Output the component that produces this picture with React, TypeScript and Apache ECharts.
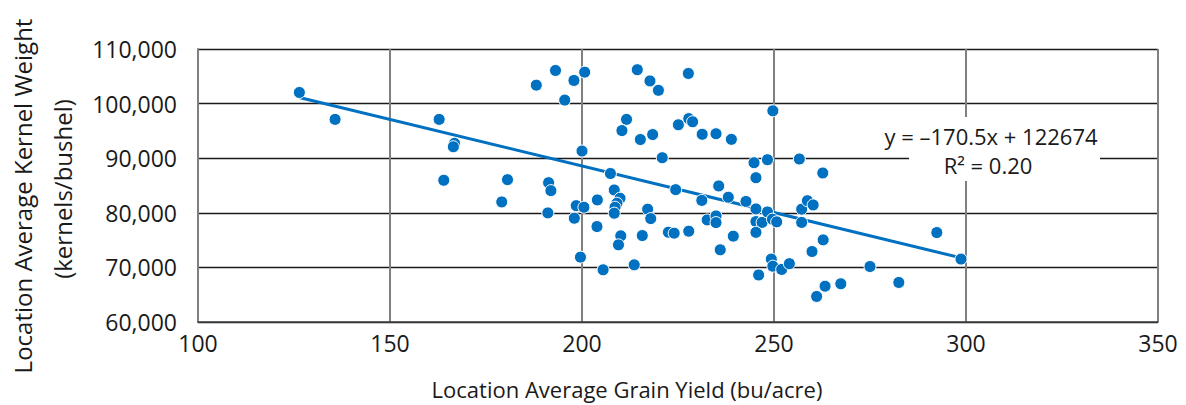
import React, { useEffect, useRef } from "react";
import * as echarts from "echarts";

const grainYield: number[] = [
  126.4, 135.7, 162.8, 166.8, 166.5, 164.0, 180.6, 191.3, 191.9, 179.1,
  191.1, 188.1, 193.1, 197.9, 200.7, 195.5, 200.0, 198.5, 200.5, 198.0,
  199.6, 204.0, 203.9, 208.4, 209.9, 209.1, 208.6, 208.4, 210.1, 209.5,
  205.5, 213.6, 215.7, 217.1, 217.9, 222.5, 224.0, 224.4, 227.8, 231.2,
  232.6, 214.4, 217.7, 219.9, 227.7, 211.6, 210.4, 215.2, 218.4, 225.1,
  227.8, 228.8, 231.3, 234.9, 238.9, 220.9, 207.4, 249.7, 244.8, 248.3,
  256.6, 245.3, 262.7, 235.6, 234.9, 234.9, 236.0, 238.1, 239.4, 242.7,
  245.3, 245.3, 246.9, 245.3, 248.3, 249.6, 250.7, 249.3, 249.7, 252.0,
  254.0, 246.0, 257.2, 258.7, 260.2, 257.2, 262.8, 259.9, 263.3, 267.4,
  261.1, 275.0, 282.5, 292.4, 298.7,
];

const kernelWeight: number[] = [
  102040, 97110, 97110, 92720, 92100, 85960, 86070, 85520, 84060, 81990,
  79980, 103380, 106070, 104240, 105760, 100640, 91310, 81310, 81020, 79010,
  71880, 82360, 77480, 84180, 82670, 81750, 81020, 79930, 75780, 74130,
  69560, 70470, 75830, 80660, 78940, 76450, 76270, 84240, 76630, 82270,
  78700, 106210, 104150, 102430, 105520, 97110, 95060, 93420, 94330, 96120,
  97250, 96670, 94380, 94480, 93450, 90090, 87200, 98680, 89170, 89720,
  89850, 86430, 87290, 84920, 79430, 78210, 73220, 82850, 75720, 82080,
  80710, 78390, 78240, 76420, 80160, 78830, 78340, 71520, 70220, 69630,
  70680, 68610, 80660, 82210, 81440, 78240, 75040, 72910, 66560, 67000,
  64680, 70160, 67240, 76380, 71520,
];

const trendSlope = -170.5;
const trendIntercept = 122674;
const trendLabel = "y = –170.5x + 122674";
const r2Label = "R² = 0.20";

const xTicks = [100, 150, 200, 250, 300, 350];
const yTicks = [60000, 70000, 80000, 90000, 100000, 110000];

const xTitle = "Location Average Grain Yield (bu/acre)";
const yTitle1 = "Location Average Kernel Weight";
const yTitle2 = "(kernels/bushel)";

const FONT = "'Open Sans', 'Noto Sans', sans-serif";
const BLUE = "#0070C0";
const INK = "#1a1a1a";

export default function App() {
  const ref = useRef<HTMLDivElement>(null);

  useEffect(() => {
    if (!ref.current) return;
    const chart = echarts.init(ref.current, undefined, { renderer: "svg" });

    const points = grainYield.map((x, i) => [x, kernelWeight[i]]);
    const xMin = Math.min(...grainYield);
    const xMax = Math.max(...grainYield);
    const trend = [
      [xMin, trendSlope * xMin + trendIntercept],
      [xMax, trendSlope * xMax + trendIntercept],
    ];

    chart.setOption({
      animation: false,
      backgroundColor: "#ffffff",
      textStyle: { fontFamily: FONT },
      grid: { left: 198, right: 28, top: 49, bottom: 83 },
      xAxis: {
        type: "value",
        min: xTicks[0],
        max: xTicks[xTicks.length - 1],
        interval: 50,
        axisLine: { show: true, lineStyle: { color: "#404040", width: 1.5 } },
        axisTick: { show: false },
        axisLabel: {
          color: INK,
          fontSize: 23,
          fontFamily: FONT,
          margin: 9,
        },
        splitLine: { show: true, lineStyle: { color: "#808080", width: 2 } },
      },
      yAxis: {
        type: "value",
        min: yTicks[0],
        max: yTicks[yTicks.length - 1],
        interval: 10000,
        axisLine: { show: true, lineStyle: { color: "#808080", width: 2 } },
        axisTick: { show: false },
        axisLabel: {
          color: INK,
          fontSize: 23,
          fontFamily: FONT,
          margin: 21,
          formatter: (v: number) => v.toLocaleString("en-US"),
        },
        splitLine: { show: true, lineStyle: { color: INK, width: 1.3 } },
      },
      graphic: [
        {
          type: "rect",
          shape: { x: 909, y: 117, width: 191, height: 64 },
          style: { fill: "#ffffff" },
          z: 50,
        },
        {
          type: "text",
          x: 991,
          y: 136,
          style: {
            text: trendLabel,
            fontSize: 22,
            fontFamily: FONT,
            fill: INK,
            align: "center",
            verticalAlign: "middle",
          },
          z: 51,
        },
        {
          type: "text",
          x: 988,
          y: 165,
          style: {
            text: r2Label,
            fontSize: 22,
            fontFamily: FONT,
            fill: INK,
            align: "center",
            verticalAlign: "middle",
          },
          z: 51,
        },
        {
          type: "text",
          x: 627,
          y: 389,
          style: {
            text: xTitle,
            fontSize: 22,
            fontFamily: FONT,
            fill: INK,
            align: "center",
            verticalAlign: "middle",
          },
        },
        {
          type: "text",
          x: 22,
          y: 196,
          rotation: Math.PI / 2,
          style: {
            text: yTitle1,
            fontSize: 24,
            fontFamily: FONT,
            fill: INK,
            align: "center",
            verticalAlign: "middle",
          },
        },
        {
          type: "text",
          x: 62,
          y: 189,
          rotation: Math.PI / 2,
          style: {
            text: yTitle2,
            fontSize: 24,
            fontFamily: FONT,
            fill: INK,
            align: "center",
            verticalAlign: "middle",
          },
        },
      ],
      series: [
        {
          type: "line",
          data: trend,
          showSymbol: false,
          symbol: "none",
          lineStyle: { color: BLUE, width: 3 },
          z: 2,
          silent: true,
        },
        {
          type: "scatter",
          data: points,
          symbol: "circle",
          symbolSize: 12,
          itemStyle: {
            color: BLUE,
            opacity: 1,
            borderColor: "#ffffff",
            borderWidth: 1,
          },
          z: 3,
        },
      ],
    });

    return () => chart.dispose();
  }, []);

  return (
    <div
      ref={ref}
      style={{ position: "fixed", left: 0, top: 0, width: 1186, height: 405 }}
    />
  );
}
